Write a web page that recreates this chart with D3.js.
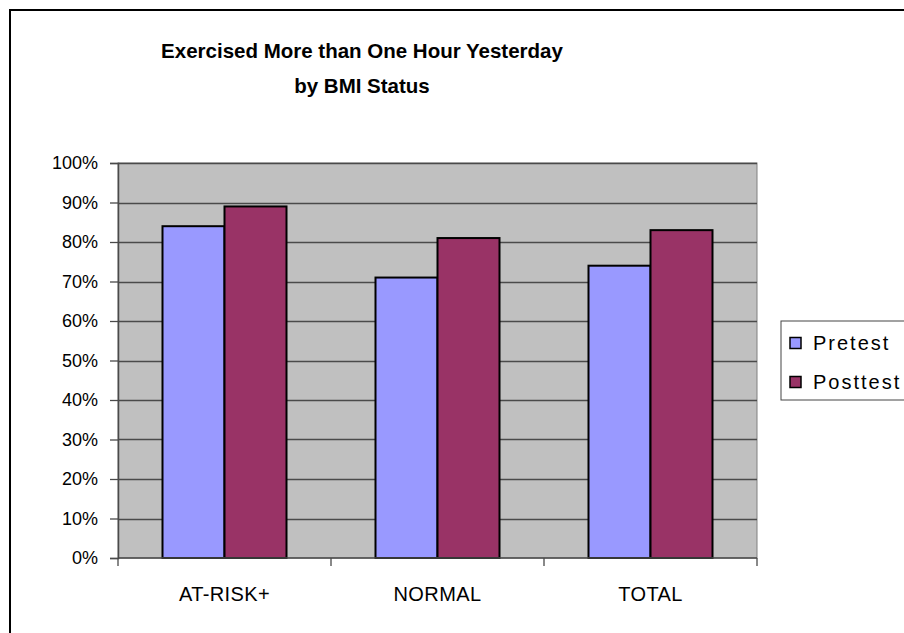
<!DOCTYPE html>
<html>
<head>
<meta charset="utf-8">
<script src="https://cdn.jsdelivr.net/npm/d3@7"></script>
<style>
  html, body { margin: 0; padding: 0; background: #fff; }
  svg { display: block; font-family: Arial, "Liberation Sans", sans-serif; }
</style>
</head>
<body>
<svg id="chart" width="904" height="633"></svg>
<script>
// Chart data
const categories = ["AT-RISK+", "NORMAL", "TOTAL"];
const seriesNames = ["Pretest", "Posttest"];
const pretest = [84, 71, 74];
const posttest = [89, 81, 83];
const yTicks = [0, 10, 20, 30, 40, 50, 60, 70, 80, 90, 100];
const titleLines = ["Exercised More than One Hour Yesterday", "by BMI Status"];
const colors = ["#9999FF", "#993366"];

const svg = d3.select("#chart");

// Outer chart frame (runs off the right and bottom edges)
svg.append("rect")
  .attr("x", 10).attr("y", 10)
  .attr("width", 920).attr("height", 650)
  .attr("fill", "#fff").attr("stroke", "#000").attr("stroke-width", 2);

// Title
svg.append("g").selectAll("text").data(titleLines).join("text")
  .attr("x", 362)
  .attr("y", (d, i) => 58 + i * 35)
  .attr("text-anchor", "middle")
  .attr("font-size", 20.5).attr("font-weight", "bold")
  .attr("fill", "#000")
  .text(d => d);

// Plot area
const plot = { left: 118, right: 757, top: 163, bottom: 558 };

const x0 = d3.scaleBand().domain(categories)
  .range([plot.left, plot.right]).paddingInner(0).paddingOuter(0);
const barGroupWidth = 124;
const x1 = d3.scaleBand().domain(seriesNames).range([0, barGroupWidth]);
const y = d3.scaleLinear().domain([0, 100]).range([plot.bottom, plot.top]);

svg.append("rect")
  .attr("x", plot.left).attr("y", plot.top)
  .attr("width", plot.right - plot.left).attr("height", plot.bottom - plot.top)
  .attr("fill", "#C0C0C0").attr("stroke", "#808080").attr("stroke-width", 1);

// Horizontal gridlines
svg.append("g").selectAll("line").data(yTicks.filter(t => t > 0)).join("line")
  .attr("x1", plot.left).attr("x2", plot.right)
  .attr("y1", d => Math.round(y(d)) + 0.5).attr("y2", d => Math.round(y(d)) + 0.5)
  .attr("stroke", "#4a4a4a").attr("stroke-width", 1.3);

// Bars
const rows = categories.map((c, i) => ({ cat: c, values: [pretest[i], posttest[i]] }));
const groups = svg.append("g").selectAll("g").data(rows).join("g")
  .attr("transform", d => `translate(${x0(d.cat) + (x0.bandwidth() - barGroupWidth) / 2},0)`);
groups.selectAll("rect")
  .data(d => d.values.map((v, j) => ({ name: seriesNames[j], value: v, j })))
  .join("rect")
  .attr("x", d => x1(d.name))
  .attr("y", d => y(d.value))
  .attr("width", x1.bandwidth())
  .attr("height", d => y(0) - y(d.value))
  .attr("fill", d => colors[d.j])
  .attr("stroke", "#000").attr("stroke-width", 2);

// Y axis
const yAxis = d3.axisLeft(y).tickValues(yTicks).tickFormat(d => d + "%").tickSize(8).tickPadding(12);
const gy = svg.append("g").attr("transform", `translate(${plot.left},0)`).call(yAxis);
gy.select(".domain").attr("stroke", "#4a4a4a").attr("stroke-width", 1.5);
gy.selectAll(".tick line").attr("stroke", "#4a4a4a").attr("stroke-width", 1.3);
gy.selectAll(".tick text").attr("font-size", 18).attr("font-family", "Arial, 'Liberation Sans', sans-serif").attr("fill", "#000");

// X axis: line with ticks at category boundaries
const boundaries = [plot.left, ...categories.map(c => x0(c) + x0.bandwidth())];
const gx = svg.append("g");
gx.append("line")
  .attr("x1", plot.left).attr("x2", plot.right)
  .attr("y1", plot.bottom).attr("y2", plot.bottom)
  .attr("stroke", "#4a4a4a").attr("stroke-width", 1.5);
gx.selectAll("line.tick").data(boundaries).join("line").attr("class", "tick")
  .attr("x1", d => d).attr("x2", d => d)
  .attr("y1", plot.bottom).attr("y2", plot.bottom + 8)
  .attr("stroke", "#4a4a4a").attr("stroke-width", 1.3);
gx.selectAll("text").data(categories).join("text")
  .attr("x", d => x0(d) + x0.bandwidth() / 2)
  .attr("y", 601)
  .attr("text-anchor", "middle")
  .attr("font-size", 20).attr("letter-spacing", 0.4).attr("fill", "#000")
  .text(d => d);

// Legend
const legend = svg.append("g");
legend.append("rect")
  .attr("x", 781).attr("y", 321).attr("width", 140).attr("height", 79)
  .attr("fill", "#fff").attr("stroke", "#444").attr("stroke-width", 1);
const items = legend.selectAll("g").data(seriesNames).join("g")
  .attr("transform", (d, i) => `translate(790,${343 + i * 39})`);
items.append("rect")
  .attr("x", 0).attr("y", -5.5).attr("width", 11).attr("height", 11)
  .attr("fill", (d, i) => colors[i]).attr("stroke", "#000").attr("stroke-width", 1.5);
items.append("text")
  .attr("x", 23).attr("y", 7)
  .attr("font-size", 20).attr("letter-spacing", 2).attr("fill", "#000")
  .text(d => d);
</script>
</body>
</html>
